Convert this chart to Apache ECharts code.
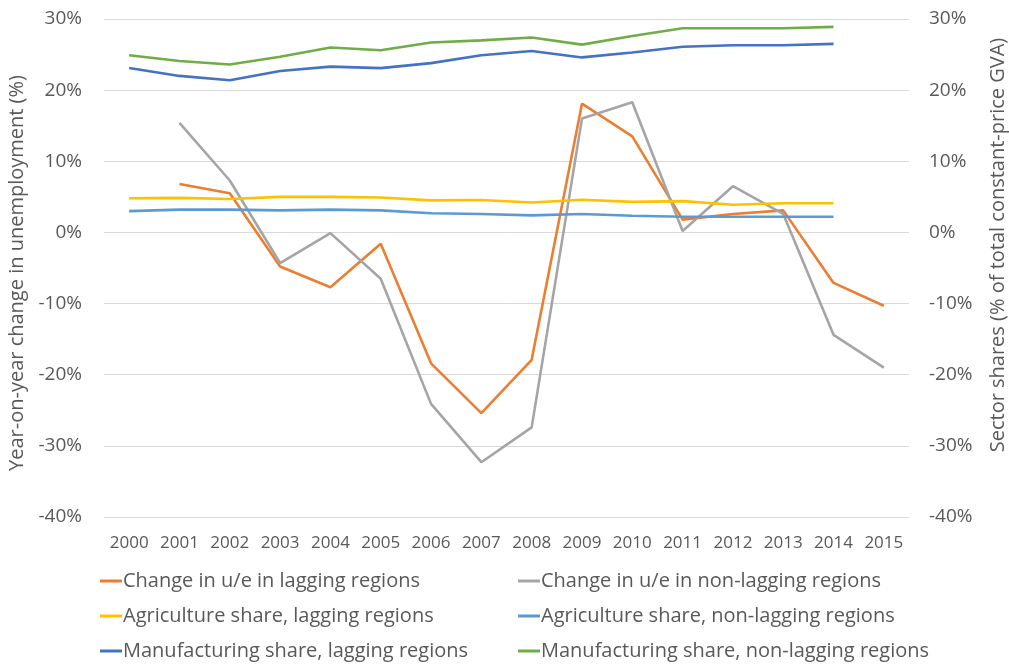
<!DOCTYPE html>
<html><head><meta charset="utf-8">
<script src="https://cdn.jsdelivr.net/npm/echarts@6/dist/echarts.min.js"></script>
<style>html,body{margin:0;padding:0;background:#fff}#c{width:1009px;height:666px}</style>
</head><body><div id="c"></div>
<script>
const years = ['2000','2001','2002','2003','2004','2005','2006','2007','2008','2009','2010','2011','2012','2013','2014','2015'];
const ueLagging = [null, 6.8, 5.5, -4.8, -7.7, -1.6, -18.4, -25.4, -17.9, 18.1, 13.5, 1.8, 2.6, 3.1, -7.1, -10.3];
const ueNonLagging = [null, 15.4, 7.3, -4.3, -0.1, -6.5, -24.1, -32.3, -27.4, 16.0, 18.3, 0.2, 6.5, 2.6, -14.4, -19.0];
const agriLagging = [4.8, 4.85, 4.7, 5.0, 5.0, 4.9, 4.5, 4.55, 4.2, 4.6, 4.3, 4.4, 3.9, 4.1, 4.1, null];
const agriNonLagging = [3.0, 3.2, 3.2, 3.1, 3.2, 3.1, 2.7, 2.6, 2.4, 2.6, 2.35, 2.2, 2.2, 2.2, 2.2, null];
const manuLagging = [23.1, 22.0, 21.4, 22.7, 23.3, 23.1, 23.8, 24.9, 25.5, 24.6, 25.3, 26.1, 26.3, 26.3, 26.5, null];
const manuNonLagging = [24.9, 24.1, 23.6, 24.7, 26.0, 25.6, 26.7, 27.0, 27.4, 26.4, 27.6, 28.7, 28.7, 28.7, 28.9, null];
const axisTicks = {min: -40, max: 30, interval: 10};
const leftAxisName = 'Year-on-year change in unemployment (%)';
const rightAxisName = 'Sector shares (% of total constant-price GVA)';

const FONT = '"Open Sans"';
const TXT = '#595959';
function yAxis(name, pos) {
  return {
    type: 'value', position: pos, min: axisTicks.min, max: axisTicks.max, interval: axisTicks.interval,
    name: name, nameLocation: 'middle', nameRotate: 90, nameGap: pos === 'left' ? 63 : 79,
    nameTextStyle: {color: TXT, fontFamily: FONT, fontSize: 20,
      padding: pos === 'left' ? [0, 10, 0, 0] : [0, 0, 0, 46]},
    axisLine: {show: false}, axisTick: {show: false},
    axisLabel: {formatter: '{value}%', color: TXT, fontFamily: FONT, fontSize: 19, margin: pos === 'left' ? 22 : 20},
    splitLine: {show: pos === 'left', lineStyle: {color: '#d9d9d9', width: 1}}
  };
}
function line(name, data, color, axisIdx) {
  return {name, type: 'line', data, yAxisIndex: axisIdx, symbol: 'none', connectNulls: false,
    lineStyle: {color, width: 2.6}, itemStyle: {color}, animation: false};
}
const chart = echarts.init(document.getElementById('c'));
const legendCommon = {orient: 'vertical', itemGap: 15, itemWidth: 22, itemHeight: 3, icon: 'rect', padding: 0,
  textStyle: {color: TXT, fontFamily: FONT, fontSize: 20, padding: [0,0,0,-4]}, top: 571};
chart.setOption({
  animation: false,
  grid: {left: 104, right: 100, top: 19, bottom: 149, containLabel: false, outerBoundsMode: 'none'},
  xAxis: {type: 'category', data: years, boundaryGap: true,
    axisLine: {show: false}, axisTick: {show: false},
    axisLabel: {interval: 0, color: TXT, fontFamily: FONT, fontSize: 17, margin: 18}},
  yAxis: [yAxis(leftAxisName, 'left'), yAxis(rightAxisName, 'right')],
  legend: [
    Object.assign({left: 100, data: ['Change in u/e in lagging regions', 'Agriculture share, lagging regions', 'Manufacturing share, lagging regions']}, legendCommon),
    Object.assign({left: 518, data: ['Change in u/e in non-lagging regions', 'Agriculture share, non-lagging regions', 'Manufacturing share, non-lagging regions']}, legendCommon)
  ],
  series: [
    line('Change in u/e in lagging regions', ueLagging, '#ED7D31', 0),
    line('Change in u/e in non-lagging regions', ueNonLagging, '#A5A5A5', 0),
    line('Agriculture share, lagging regions', agriLagging, '#FFC000', 1),
    line('Agriculture share, non-lagging regions', agriNonLagging, '#5B9BD5', 1),
    line('Manufacturing share, lagging regions', manuLagging, '#4472C4', 1),
    line('Manufacturing share, non-lagging regions', manuNonLagging, '#70AD47', 1)
  ]
});
</script></body></html>
